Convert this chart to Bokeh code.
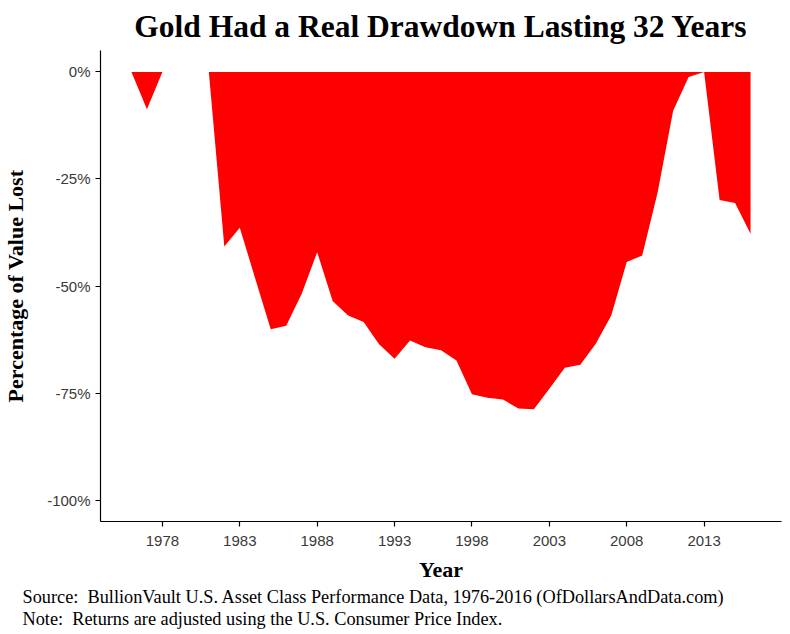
from bokeh.plotting import figure
from bokeh.models import Range1d, FixedTicker, PrintfTickFormatter, Title
from bokeh.embed import file_html
from bokeh.resources import INLINE

years = list(range(1976, 2017))
drawdown = [0.0, -8.7, 0.0, 0.0, 0.0, 0.0, -40.8, -36.4, -48.3, -60.1,
            -59.3, -51.8, -42.1, -53.5, -56.9, -58.4, -63.6, -67.0, -62.7, -64.3,
            -65.0, -67.4, -75.3, -76.1, -76.5, -78.6, -78.8, -74.0, -69.1, -68.4,
            -63.5, -56.9, -44.4, -42.9, -28.1, -9.1, -1.2, 0.0, -29.9, -30.6,
            -37.8]
x_ticks = [1978, 1983, 1988, 1993, 1998, 2003, 2008, 2013]
y_ticks = [-100, -75, -50, -25, 0]

title_text = "Gold Had a Real Drawdown Lasting 32 Years"
caption1 = "Source:\u00a0 BullionVault U.S. Asset Class Performance Data, 1976-2016 (OfDollarsAndData.com)"
caption2 = "Note:\u00a0 Returns are adjusted using the U.S. Consumer Price Index."

SERIF = "Liberation Serif"
SANS = "Liberation Sans"

p = figure(width=784, height=630, output_backend="svg", toolbar_location=None,
           x_range=Range1d(1974, 2018), y_range=Range1d(-105, 5),
           min_border_left=100, min_border_right=3, min_border_top=50, min_border_bottom=109)

p.varea(x=years, y1=0, y2=drawdown, fill_color="#ff0000", fill_alpha=1.0)

p.title.text = title_text
p.title.align = "center"
p.title.text_font = SERIF
p.title.text_font_size = "31.5px"
p.title.text_font_style = "bold"
p.title.text_color = "black"
p.title.standoff = 13

p.xgrid.visible = False
p.ygrid.visible = False
p.outline_line_color = None
p.background_fill_color = "white"
p.border_fill_color = "white"

for ax in (p.xaxis[0], p.yaxis[0]):
    ax.axis_line_color = "black"
    ax.axis_line_width = 1.2
    ax.major_tick_line_color = "black"
    ax.major_tick_line_width = 1.2
    ax.major_tick_out = 5
    ax.major_tick_in = 0
    ax.minor_tick_line_color = None
    ax.major_label_text_font = SANS
    ax.major_label_text_font_size = "15px"
    ax.major_label_text_color = "#3a3a3a"
    ax.axis_label_text_font = SERIF
    ax.axis_label_text_font_style = "bold"
    ax.axis_label_text_font_size = "22px"
    ax.axis_label_text_color = "black"

p.xaxis.ticker = FixedTicker(ticks=x_ticks)
p.yaxis.ticker = FixedTicker(ticks=y_ticks)
p.yaxis.formatter = PrintfTickFormatter(format="%d%%")
p.xaxis.axis_label = "Year"
p.yaxis.axis_label = "Percentage of Value Lost"
p.xaxis.major_label_standoff = 9
p.yaxis.major_label_standoff = 5
p.xaxis.axis_label_standoff = 8
p.yaxis.axis_label_standoff = 16

for txt in (caption1, caption2):
    p.add_layout(Title(text=txt, align="left", offset=-78, standoff=0,
                       text_font=SERIF, text_font_size="18.3px", text_color="black",
                       text_font_style="normal"), "below")

open("out.html", "w").write(file_html(p, INLINE))
